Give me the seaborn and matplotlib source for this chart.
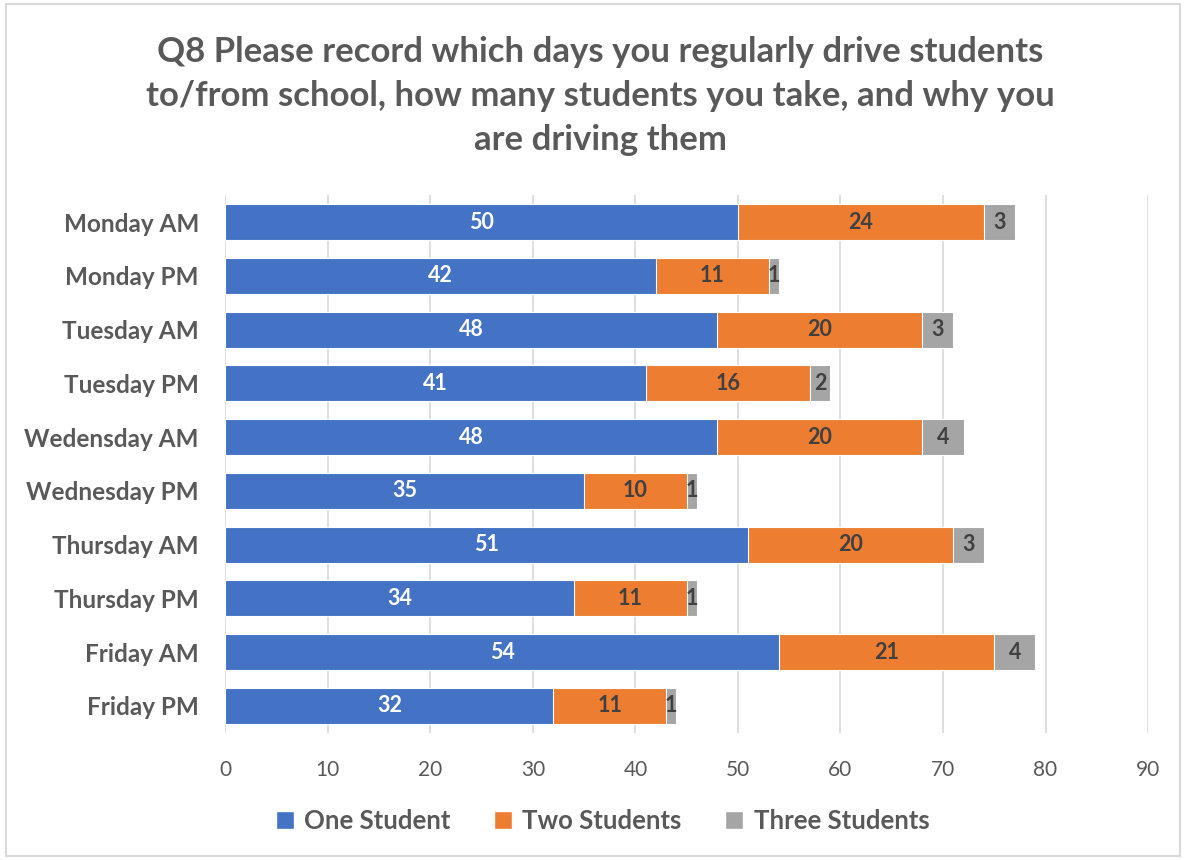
import pandas as pd
import matplotlib.pyplot as plt
import seaborn as sns
from matplotlib.patches import Patch, Rectangle

# Survey answers
days = [
    "Monday AM", "Monday PM", "Tuesday AM", "Tuesday PM", "Wedensday AM",
    "Wednesday PM", "Thursday AM", "Thursday PM", "Friday AM", "Friday PM",
]
one_student = [50, 42, 48, 41, 48, 35, 51, 34, 54, 32]
two_students = [24, 11, 20, 16, 20, 10, 20, 11, 21, 11]
three_students = [3, 1, 3, 2, 4, 1, 3, 1, 4, 1]

series_names = ["One Student", "Two Students", "Three Students"]
colors = ["#4472C4", "#ED7D31", "#A5A5A5"]
text_col = "#595959"

df = pd.DataFrame({
    "day": days,
    "one": one_student,
    "two": two_students,
    "three": three_students,
})
df["one_two"] = df["one"] + df["two"]
df["total"] = df["one_two"] + df["three"]

sns.set_style("white")
plt.rcParams["font.family"] = ["Lato", "DejaVu Sans"]

fig = plt.figure(figsize=(11.86, 8.6), dpi=100)
ax = fig.add_axes([0.19, 0.148, 0.778, 0.625])

# stacked bars: draw cumulative totals, longest first
for col, c in zip(["total", "one_two", "one"], colors[::-1]):
    sns.barplot(data=df, x=col, y="day", color=c, saturation=1, width=0.67,
                edgecolor="white", linewidth=0.8, ax=ax, zorder=3)

# segment labels
lab = dict(ha="center", va="center", fontsize=15.5, fontweight="bold", zorder=5)
for i, row in df.iterrows():
    ax.text(row["one"] / 2, i, str(row["one"]), color="white", **lab)
    ax.text(row["one"] + row["two"] / 2, i, str(row["two"]), color="#404040", **lab)
    ax.text(row["one_two"] + row["three"] / 2, i, str(row["three"]),
            color="#404040", **lab)

ax.set_xlim(0, 90)
ax.set_xticks(range(0, 91, 10))
ax.set_ylim(len(days) - 0.5, -0.5)
ax.xaxis.grid(True, color="#D9D9D9", linewidth=1.2, zorder=0)
ax.set_axisbelow(True)
for s in ax.spines.values():
    s.set_visible(False)
ax.set_xlabel("")
ax.set_ylabel("")
ax.tick_params(axis="x", labelsize=15, colors=text_col, length=0, pad=20)
ax.tick_params(axis="y", labelsize=17.5, colors=text_col, length=0, pad=19)
for lbl in ax.get_yticklabels():
    lbl.set_fontweight("bold")

fig.suptitle(
    "Q8 Please record which days you regularly drive students\n"
    "to/from school, how many students you take, and why you\n"
    "are driving them",
    x=0.506, y=0.958, fontsize=25, fontweight="bold", color=text_col,
    linespacing=1.45,
)

handles = [Patch(facecolor=c, label=n) for c, n in zip(colors, series_names)]
fig.legend(handles=handles, loc="center", bbox_to_anchor=(0.508, 0.045), ncol=3,
           frameon=False, prop={"size": 18.5, "weight": "bold"}, labelcolor=text_col,
           handlelength=0.7, handleheight=0.7, handletextpad=0.4, columnspacing=1.7)

# chart border
fig.add_artist(Rectangle((0.005, 0.005), 0.99, 0.99, transform=fig.transFigure,
                         fill=False, edgecolor="#D9D9D9", linewidth=1.5))

fig.savefig("out.png", dpi=100)
